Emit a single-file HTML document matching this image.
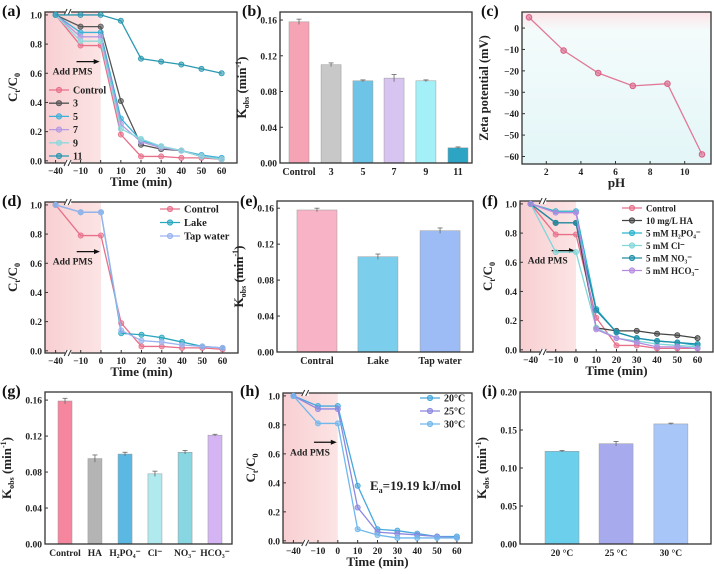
<!DOCTYPE html>
<html><head><meta charset="utf-8"><style>
html,body{margin:0;padding:0;background:#fff;}
svg{display:block;font-family:"Liberation Serif",serif;font-weight:bold;}
</style></head><body>
<svg id="fig" width="714" height="574" viewBox="0 0 714 574" xmlns="http://www.w3.org/2000/svg">
<defs>
<linearGradient id="pinkfade" x1="0" x2="1" y1="0" y2="0"><stop offset="0" stop-color="#f8cfd2"/><stop offset="1" stop-color="#fce4e4"/></linearGradient>
<linearGradient id="zetabg" x1="0" x2="0" y1="0" y2="1"><stop offset="0" stop-color="#fde4e8"/><stop offset="0.12" stop-color="#f4fbfb"/><stop offset="1" stop-color="#e3f6f8"/></linearGradient>
</defs>
</svg>
<script>
// ---------- data ----------
const times = [-40,-10,0,10,20,30,40,50,60];
const tickTimes = [-40,-10,0,10,20,30,40,50,60];
const cTicks = [0,0.2,0.4,0.6,0.8,1.0];

const aNames = ["Control","3","5","7","9","11"];
const aControl = [1,0.79,0.79,0.18,0.03,0.03,0.02,0.02,0.01];
const a3 = [1,0.92,0.92,0.41,0.11,0.08,0.07,0.03,0.01];
const a5 = [1,0.88,0.88,0.29,0.14,0.10,0.07,0.04,0.02];
const a7 = [1,0.85,0.85,0.25,0.13,0.09,0.07,0.03,0.01];
const a9 = [1,0.82,0.82,0.22,0.15,0.10,0.07,0.03,0.01];
const a11 = [1,1,1,0.96,0.70,0.68,0.66,0.63,0.60];

const dNames = ["Control","Lake","Tap water"];
const dControl = [1,0.79,0.79,0.19,0.03,0.03,0.02,0.02,0.01];
const dLake = [1,0.95,0.95,0.12,0.11,0.09,0.06,0.03,0.02];
const dTap = [1,0.95,0.95,0.14,0.07,0.06,0.04,0.03,0.02];

const fNames = ["Control","10 mg/L HA","5 mM H₂PO₄⁻","5 mM Cl⁻","5 mM NO₃⁻","5 mM HCO₃⁻"];
const fControl = [1,0.79,0.79,0.22,0.03,0.03,0.01,0.01,0.01];
const fHA = [1,0.87,0.87,0.15,0.13,0.13,0.11,0.10,0.08];
const fH2PO4 = [1,0.95,0.95,0.28,0.12,0.08,0.06,0.05,0.03];
const fCl = [1,0.67,0.67,0.15,0.08,0.06,0.04,0.03,0.02];
const fNO3 = [1,0.87,0.87,0.27,0.12,0.08,0.06,0.05,0.04];
const fHCO3 = [1,0.94,0.94,0.14,0.08,0.05,0.02,0.02,0.01];

const hNames = ["20°C","25°C","30°C"];
const h20 = [1,0.93,0.93,0.38,0.08,0.07,0.05,0.03,0.03];
const h25 = [1,0.91,0.91,0.23,0.06,0.05,0.04,0.03,0.02];
const h30 = [1,0.81,0.81,0.08,0.04,0.02,0.02,0.02,0.02];

const bCats = ["Control","3","5","7","9","11"];
const bVals = [0.158,0.110,0.092,0.095,0.092,0.017];
const bErr = [0.003,0.002,0.001,0.004,0.001,0.001];
const kTicks = [0,0.04,0.08,0.12,0.16];

const eCats = ["Contral","Lake","Tap water"];
const eVals = [0.158,0.106,0.135];
const eErr = [0.002,0.003,0.003];

const gCats = ["Control","HA","H₂PO₄⁻","Cl⁻","NO₃⁻","HCO₃⁻"];
const gVals = [0.159,0.095,0.100,0.078,0.102,0.121];
const gErr = [0.003,0.004,0.002,0.003,0.002,0.001];

const iCats = ["20 °C","25 °C","30 °C"];
const iVals = [0.122,0.132,0.158];
const iErr = [0.001,0.003,0.001];
const iTicks = [0,0.05,0.10,0.15,0.20];

const pH = [1,3,5,7,9,11];
const zeta = [5,-10.5,-21,-27,-26,-59];
const pHTicks = [2,4,6,8,10];
const zTicks = [0,-10,-20,-30,-40,-50,-60];

// ---------- helpers ----------
const svg = document.getElementById('fig');
const NS = "http://www.w3.org/2000/svg";
function el(tag, attrs, parent, text){
  const e = document.createElementNS(NS, tag);
  for (const k in attrs) e.setAttribute(k, attrs[k]);
  if (text !== undefined) e.textContent = text;
  (parent||svg).appendChild(e);
  return e;
}
function group(name){
  const g = el('g', {});
  
  
  return g;
}
function txt(g, x, y, s, size, anchor, name, extra){
  const t = el('text', Object.assign({x:x, y:y, 'font-size':size, 'text-anchor':anchor||'middle', fill:'#222'}, extra||{}), g, s);
  
  
  return t;
}
function frame(g, b){
  const r = el('rect', {x:b.l, y:b.t, width:b.r-b.l, height:b.b-b.t, fill:'none', stroke:'#333', 'stroke-width':1.3}, g);
  
  
}
function yAxis(g, b, ys, ticks, fmt){
  ticks.forEach(v=>{
    const y = ys(v);
    el('line', {x1:b.l, x2:b.l+3, y1:y, y2:y, stroke:'#333'}, g);
    txt(g, b.l-3, y+3.5, fmt(v), 9.5, 'end', 'y-tick-label');
  });
}
function ylabelK(g, x, y){
  const t = el('text', {x:0, y:0, 'font-size':13, 'text-anchor':'middle', fill:'#222', transform:`translate(${x},${y}) rotate(-90)`}, g);
  
  
  t.innerHTML = 'K<tspan font-size="8" dy="3">obs</tspan><tspan dy="-3"> (min</tspan><tspan font-size="8" dy="-5">-1</tspan><tspan dy="5">)</tspan>';
}
function ylabelC(g, x, y){
  const t = el('text', {x:0, y:0, 'font-size':13, 'text-anchor':'middle', fill:'#222', transform:`translate(${x},${y}) rotate(-90)`}, g);
  
  
  t.innerHTML = 'C<tspan font-size="8" dy="3">t</tspan><tspan dy="-3">/C</tspan><tspan font-size="8" dy="3">0</tspan>';
}
function panelLabel(x, y, s){
  const t = el('text', {x:x, y:y, 'font-size':16, fill:'#111'}, svg, s);
  
  
}

function linePanel(name, b, series, colors, names, legend, label){
  const g = group(name);
  const w = b.r-b.l;
  const xs = t => t>=-10 ? b.l + w*(0.29+0.0105*t) : b.l + w*(0.185+(t+10)*0.00433);
  const ymin=-0.015, ymax=1.02;
  const ys = v => b.b - (v-ymin)/(ymax-ymin)*(b.b-b.t);
  const sh = el('rect', {x:b.l, y:b.t, width:xs(0)-b.l, height:b.b-b.t, fill:'url(#pinkfade)'}, g);
  
  
  frame(g, b);
  yAxis(g, b, ys, cTicks, v=>v.toFixed(1));
  tickTimes.forEach(t=>{
    const x = xs(t);
    el('line', {x1:x, x2:x, y1:b.b, y2:b.b-3, stroke:'#333'}, g);
    txt(g, x, b.b+11, String(t).replace('-','−'), 9.5, 'middle', 'x-tick-label');
  });
  // axis break
  const bx = xs(-25);
  [b.t, b.b].forEach(y=>{
    el('rect',{x:bx-3,y:y-3,width:6,height:6,fill:'#fff'},g);
    el('line',{x1:bx-4,y1:y+3,x2:bx-1,y2:y-3,stroke:'#333'},g);
    el('line',{x1:bx,y1:y+3,x2:bx+3,y2:y-3,stroke:'#333'},g);
  });
  txt(g, (b.l+b.r)/2, b.b+23, 'Time (min)', 13, 'middle', 'x-axis-title');
  ylabelC(g, b.l-28, (b.t+b.b)/2);
  // arrow + Add PMS
  const ay = ys(0.68);
  const ar = el('line',{x1:xs(-10)-4, x2:xs(0)-4, y1:ay, y2:ay, stroke:'#111', 'stroke-width':1.2}, g);
   
  el('polygon',{points:`${xs(0)-1},${ay} ${xs(0)-7},${ay-2.5} ${xs(0)-7},${ay+2.5}`, fill:'#111'}, g);
  txt(g, xs(-10)-8, ay+13, 'Add PMS', 9.5, 'middle', 'add-pms-label');
  series.forEach((s,i)=>{
    const sg = el('g',{},g);
    
    
    const pts = s.map((v,j)=>xs(times[j])+','+ys(v)).join(' ');
    el('polyline',{points:pts, fill:'none', stroke:colors[i], 'stroke-width':1.3}, sg);
    s.forEach((v,j)=>{
      el('circle',{cx:xs(times[j]), cy:ys(v), r:2.6, fill:colors[i], 'fill-opacity':0.6, stroke:colors[i], 'stroke-width':0.8}, sg);
    });
  });
  // legend
  if (legend){
    names.forEach((n,i)=>{
      const y = legend.y + i*legend.dy;
      const lg = el('g',{},g);
      
      
      el('line',{x1:legend.x, x2:legend.x+20, y1:y, y2:y, stroke:colors[i], 'stroke-width':1.3}, lg);
      el('circle',{cx:legend.x+10, cy:y, r:2.6, fill:colors[i], 'fill-opacity':0.6, stroke:colors[i]}, lg);
      txt(lg, legend.x+24, y+3.5, n, legend.fs||10, 'start', 'legend-label');
    });
  }
  panelLabel(label.x, label.y, label.s);
  return {g, xs, ys};
}

function barPanel(name, b, cats, vals, errs, colors, centers, bw, ticks, ymax, fmt, label, fs){
  const g = group(name);
  const ys = v => b.b - v/ymax*(b.b-b.t);
  const w = b.r-b.l;
  const xs = i => b.l + w*centers[i];
  vals.forEach((v,i)=>{
    const r = el('rect',{x:xs(i)-bw/2, y:ys(v), width:bw, height:b.b-ys(v), fill:colors[i], stroke:'#999', 'stroke-width':0.5}, g);
    
    
    const e1=ys(v+errs[i]), e2=ys(v-errs[i]);
    el('line',{x1:xs(i),x2:xs(i),y1:e1,y2:e2,stroke:'#666','stroke-width':0.8},g);
    el('line',{x1:xs(i)-2.5,x2:xs(i)+2.5,y1:e1,y2:e1,stroke:'#666','stroke-width':0.8},g);
    txt(g, xs(i), b.b+12, cats[i], fs||10, 'middle', 'x-tick-label');
  });
  frame(g, b);
  yAxis(g, b, ys, ticks, fmt);
  ylabelK(g, b.l-34, (b.t+b.b)/2);
  panelLabel(label.x, label.y, label.s);
}

// ---------- (a) ----------
linePanel('panel-a-ph-kinetics', {l:45,t:12,r:237,b:163},
  [aControl,a3,a5,a7,a9,a11],
  ['#e8708a','#555','#3fb0d8','#b49ae0','#8ed8dc','#2a98b0'],
  aNames, {x:49, y:90, dy:13.2, fs:10}, {x:2,y:16,s:'(a)'});

// ---------- (b) ----------
barPanel('panel-b-kobs-ph', {l:280,t:12,r:472,b:163}, bCats, bVals, bErr,
  ['#f5a3b5','#c8c8c8','#6ec4e6','#d8c4f0','#a4f0f8','#2ea4c4'],
  [0.099,0.266,0.432,0.594,0.76,0.927], 20, kTicks, 0.169, v=>v.toFixed(2), {x:242,y:16,s:'(b)'});

// ---------- (c) ----------
(function(){
  const g = group('panel-c-zeta');
  const b = {l:522,t:12,r:711,b:164};
  const xs = v => 529 + (v-1)*17.3;
  const ys = v => b.t + (7.5-v)/(7.5+63.5)*(b.b-b.t);
  el('rect',{x:b.l,y:b.t,width:b.r-b.l,height:b.b-b.t,fill:'url(#zetabg)'},g);
  frame(g,b);
  yAxis(g,b,ys,zTicks,v=>String(v).replace('-','−'));
  pHTicks.forEach(v=>{el('line',{x1:xs(v),x2:xs(v),y1:b.b,y2:b.b-3,stroke:'#333'},g); txt(g,xs(v),b.b+11,String(v),9.5,'middle','x-tick-label');});
  txt(g,(b.l+b.r)/2,b.b+23,'pH',13,'middle','x-axis-title');
  const t = el('text',{x:0,y:0,'font-size':12.5,'text-anchor':'middle',fill:'#222',transform:`translate(${b.l-34},${(b.t+b.b)/2}) rotate(-90)`},g,'Zeta potential (mV)');
   
  const sg = el('g',{},g);
   
  el('polyline',{points:pH.map((p,i)=>xs(p)+','+ys(zeta[i])).join(' '),fill:'none',stroke:'#e07896','stroke-width':1.3},sg);
  pH.forEach((p,i)=>el('circle',{cx:xs(p),cy:ys(zeta[i]),r:2.8,fill:'#e07896','fill-opacity':0.7,stroke:'#d86088'},sg));
  panelLabel(481,16,'(c)');
})();

// ---------- (d) ----------
linePanel('panel-d-water-matrix', {l:45,t:202,r:238,b:353},
  [dControl,dLake,dTap], ['#e8708a','#2aa8c0','#9ab4f0'], dNames,
  {x:160, y:209, dy:13.5, fs:10.5}, {x:2,y:206,s:'(d)'});

// ---------- (e) ----------
barPanel('panel-e-kobs-water', {l:277,t:201,r:473,b:352}, eCats, eVals, eErr,
  ['#f8b4c6','#7ccfec','#9dbcf6'], [0.204,0.515,0.832], 40, kTicks, 0.168, v=>v.toFixed(2), {x:240,y:206,s:'(e)'});

// ---------- (f) ----------
linePanel('panel-f-ions', {l:520,t:201,r:713,b:352},
  [fControl,fHA,fH2PO4,fCl,fNO3,fHCO3],
  ['#e8708a','#444','#2ab4cc','#80d6d8','#1e8ea8','#b48ae0'], fNames,
  {x:622, y:208, dy:12.5, fs:9}, {x:482,y:206,s:'(f)'});

// ---------- (g) ----------
barPanel('panel-g-kobs-ions', {l:45,t:392,r:232,b:544}, gCats, gVals, gErr,
  ['#f5869e','#b4b4b4','#5ab8e2','#b0eaee','#88d6e2','#d4b4f2'],
  [0.107,0.267,0.428,0.588,0.749,0.909], 14, kTicks, 0.169, v=>v.toFixed(2), {x:2,y:396,s:'(g)'}, 9.5);

// ---------- (h) ----------
(function(){
  const p = linePanel('panel-h-temperature', {l:283,t:393,r:472,b:543},
    [h20,h25,h30], ['#48a8de','#8c88e0','#70b8ec'], hNames,
    {x:420, y:398, dy:13, fs:10}, {x:240,y:396,s:'(h)'});
  const t = el('text',{x:370,y:490,'font-size':13,fill:'#222'},p.g);
   
  t.innerHTML = 'E<tspan font-size="8" dy="3">a</tspan><tspan dy="-3">=19.19 kJ/mol</tspan>';
})();

// ---------- (i) ----------
barPanel('panel-i-kobs-temp', {l:520,t:392,r:711,b:544}, iCats, iVals, iErr,
  ['#6cd0ec','#a8aaee','#a8c6f8'], [0.22,0.503,0.79], 34, iTicks, 0.2, v=>v.toFixed(2), {x:482,y:396,s:'(i)'}, 9.5);
</script>
</body></html>
